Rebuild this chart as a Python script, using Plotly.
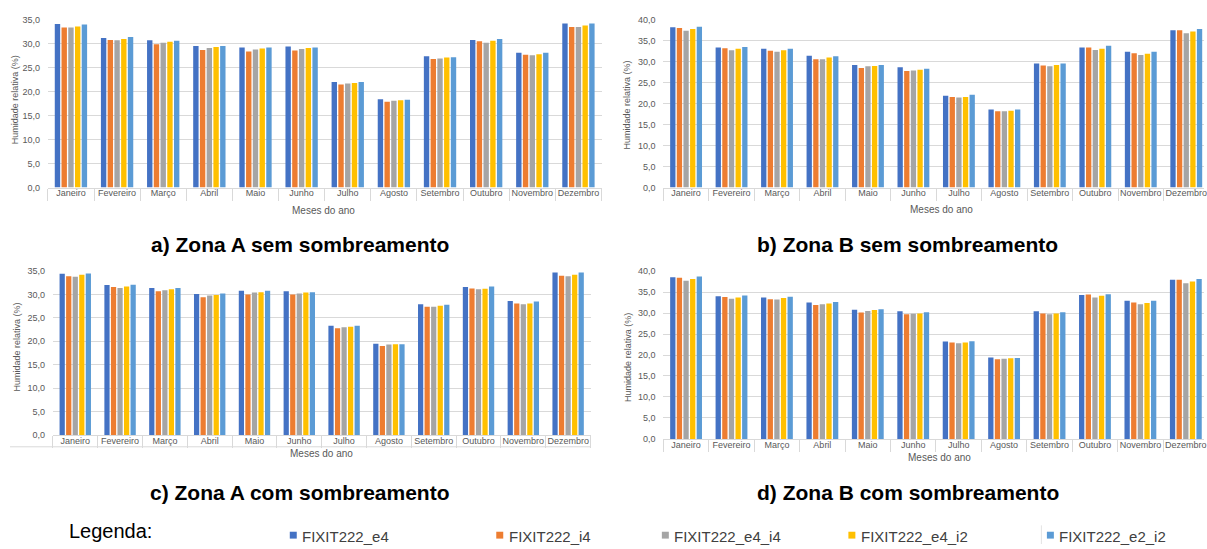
import plotly.graph_objects as go

# Months (category axis)
meses = ["Janeiro", "Fevereiro", "Março", "Abril", "Maio", "Junho", "Julho",
         "Agosto", "Setembro", "Outubro", "Novembro", "Dezembro"]

series_nomes = ["FIXIT222_e4", "FIXIT222_i4", "FIXIT222_e4_i4", "FIXIT222_e4_i2", "FIXIT222_e2_i2"]
series_cores = ["#4472C4", "#ED7D31", "#A5A5A5", "#FFC000", "#5B9BD5"]

# a) Zona A sem sombreamento
a_e4 = [34.1, 31.2, 30.7, 29.5, 29.2, 29.4, 22.0, 18.4, 27.4, 30.8, 28.1, 34.2]
a_i4 = [33.4, 30.8, 29.9, 28.7, 28.4, 28.6, 21.5, 17.9, 26.8, 30.5, 27.7, 33.5]
a_e4_i4 = [33.4, 30.7, 30.2, 29.1, 28.8, 28.9, 21.7, 18.1, 26.9, 30.2, 27.6, 33.5]
a_e4_i2 = [33.6, 31.0, 30.4, 29.3, 29.0, 29.1, 21.8, 18.2, 27.1, 30.6, 27.8, 33.8]
a_e2_i2 = [34.0, 31.4, 30.6, 29.5, 29.2, 29.2, 22.0, 18.3, 27.2, 31.0, 28.1, 34.2]

# b) Zona B sem sombreamento
b_e4 = [38.2, 33.4, 33.1, 31.4, 29.2, 28.7, 21.9, 18.6, 29.6, 33.4, 32.4, 37.5]
b_i4 = [38.0, 33.2, 32.6, 30.6, 28.5, 27.8, 21.6, 18.2, 29.1, 33.4, 32.0, 37.5]
b_e4_i4 = [37.4, 32.7, 32.4, 30.6, 28.9, 27.9, 21.5, 18.2, 28.9, 32.8, 31.6, 36.8]
b_e4_i2 = [37.8, 33.1, 32.7, 31.0, 29.0, 28.1, 21.6, 18.3, 29.2, 33.1, 31.9, 37.2]
b_e2_i2 = [38.3, 33.5, 33.1, 31.3, 29.2, 28.3, 22.1, 18.6, 29.6, 33.8, 32.4, 37.8]

# c) Zona A com sombreamento
c_e4 = [34.4, 32.0, 31.4, 30.1, 30.8, 30.7, 23.3, 19.5, 27.9, 31.6, 28.6, 34.7]
c_i4 = [33.9, 31.6, 30.7, 29.4, 30.0, 30.0, 22.8, 19.0, 27.4, 31.3, 28.1, 34.0]
c_e4_i4 = [33.8, 31.4, 30.9, 29.8, 30.4, 30.2, 23.0, 19.3, 27.4, 31.1, 27.9, 33.9]
c_e4_i2 = [34.2, 31.7, 31.1, 29.9, 30.5, 30.4, 23.1, 19.4, 27.6, 31.2, 28.1, 34.2]
c_e2_i2 = [34.5, 32.1, 31.4, 30.2, 30.8, 30.5, 23.3, 19.4, 27.8, 31.7, 28.5, 34.7]

# d) Zona B com sombreamento
d_e4 = [38.5, 34.0, 33.7, 32.5, 30.8, 30.4, 23.2, 19.4, 30.4, 34.3, 32.9, 37.9]
d_i4 = [38.4, 33.8, 33.3, 31.9, 30.1, 29.7, 23.0, 19.0, 29.9, 34.4, 32.5, 37.9]
d_e4_i4 = [37.7, 33.4, 33.2, 32.1, 30.5, 29.8, 22.8, 19.1, 29.7, 33.7, 32.1, 37.1]
d_e4_i2 = [38.1, 33.7, 33.6, 32.3, 30.7, 29.9, 23.0, 19.2, 29.9, 34.1, 32.4, 37.5]
d_e2_i2 = [38.7, 34.2, 33.9, 32.6, 30.9, 30.2, 23.3, 19.3, 30.2, 34.5, 32.9, 38.1]

W, H = 1207, 549
FONT = "Liberation Sans, Arial, sans-serif"
GRID = "#d9d9d9"
TXT = "#595959"


def px_x(v):
    return v / W


def px_y(v):
    return 1 - v / H


# panel geometry in pixels
paineis = [
    dict(dados=[a_e4, a_i4, a_e4_i4, a_e4_i2, a_e2_i2], x0=48, x1=603, y0=15, y1=186,
         ymax=35, xmax=11.5, titulo="a) Zona A sem sombreamento", tx=301, ty=244,
         ytx=15, yty=96, mx=324, my=209),
    dict(dados=[b_e4, b_i4, b_e4_i4, b_e4_i2, b_e2_i2], x0=665, x1=1207, y0=15, y1=186,
         ymax=40, xmax=11.39, titulo="b) Zona B sem sombreamento", tx=910, ty=244,
         ytx=629, yty=102, mx=944, my=208),
    dict(dados=[c_e4, c_i4, c_e4_i4, c_e4_i2, c_e2_i2], x0=53, x1=592, y0=271, y1=438,
         ymax=35, xmax=11.5, titulo="c) Zona A com sombreamento", tx=301, ty=497,
         ytx=17, yty=348, mx=322, my=457),
    dict(dados=[d_e4, d_i4, d_e4_i4, d_e4_i2, d_e2_i2], x0=665, x1=1207, y0=271, y1=442,
         ymax=40, xmax=11.4, titulo="d) Zona B com sombreamento", tx=910, ty=497,
         ytx=630, yty=359, mx=942, my=461),
]

fig = go.Figure()
annotations = []
shapes = []

for i, p in enumerate(paineis, start=1):
    sfx = "" if i == 1 else str(i)
    for nome, cor, vals in zip(series_nomes, series_cores, p["dados"]):
        fig.add_trace(go.Bar(
            x=meses, y=vals, name=nome, marker=dict(color=cor, line=dict(width=0)),
            xaxis="x" + sfx, yaxis="y" + sfx, showlegend=False,
            hovertemplate="%{x}: %{y:.1f}<extra>" + nome + "</extra>",
        ))
    fig.layout["xaxis" + sfx] = dict(
        domain=[px_x(p["x0"]), min(1.0, px_x(p["x1"]))], anchor="y" + sfx,
        type="category", categoryorder="array", categoryarray=meses,
        range=[-0.5, p["xmax"]], showgrid=False, zeroline=False,
        showline=True, linecolor=GRID, linewidth=1,
        ticks="outside", tickson="boundaries", ticklen=12, tickcolor=GRID, tickwidth=1,
        ticklabelstandoff=-3, tickangle=0,
        tickfont=dict(family=FONT, size=9, color=TXT),
    )
    fig.layout["yaxis" + sfx] = dict(
        domain=[px_y(p["y1"]), px_y(p["y0"])], anchor="x" + sfx,
        range=[0, p["ymax"]], dtick=5, tick0=0, tickformat=".1f",
        showgrid=True, gridcolor=GRID, gridwidth=1, zeroline=False, showline=False,
        ticks="outside", ticklen=5, tickcolor="rgba(0,0,0,0)",
        tickfont=dict(family=FONT, size=9, color=TXT),
    )
    annotations.append(dict(
        text="<b>" + p["titulo"] + "</b>", x=px_x(p["tx"]), y=px_y(p["ty"]),
        xref="paper", yref="paper", xanchor="center", yanchor="middle", showarrow=False,
        font=dict(family=FONT, size=21, color="#000000"),
    ))
    annotations.append(dict(
        text="Humidade relativa (%)", x=px_x(p["ytx"]), y=px_y(p["yty"]),
        xref="paper", yref="paper", xanchor="center", yanchor="middle", showarrow=False,
        textangle=-90, font=dict(family=FONT, size=9, color=TXT),
    ))
    annotations.append(dict(
        text="Meses do ano", x=px_x(p["mx"]), y=px_y(p["my"]),
        xref="paper", yref="paper", xanchor="center", yanchor="middle", showarrow=False,
        font=dict(family=FONT, size=10, color=TXT),
    ))

# bottom rule under the month labels of panel c
shapes.append(dict(type="line", xref="paper", yref="paper",
                   x0=px_x(10), x1=px_x(592), y0=px_y(450), y1=px_y(450),
                   line=dict(color=GRID, width=1)))

# legend row
annotations.append(dict(
    text="Legenda:", x=px_x(67), y=px_y(536), xref="paper", yref="paper",
    xanchor="left", yanchor="middle", showarrow=False,
    font=dict(family=FONT, size=20, color="#000000"),
))
legenda_x = [294, 501, 667, 854, 1053]
for nome, cor, lx in zip(series_nomes, series_cores, legenda_x):
    shapes.append(dict(type="rect", xref="paper", yref="paper",
                       x0=px_x(lx - 3.5), x1=px_x(lx + 3.5), y0=px_y(543.5), y1=px_y(536.5),
                       fillcolor=cor, line=dict(width=0)))
    annotations.append(dict(
        text=nome, x=px_x(lx + 7), y=px_y(541), xref="paper", yref="paper",
        xanchor="left", yanchor="middle", showarrow=False,
        font=dict(family=FONT, size=15, color="#404040"),
    ))
shapes.append(dict(type="line", xref="paper", yref="paper",
                   x0=px_x(1044), x1=px_x(1044), y0=px_y(530), y1=px_y(549),
                   line=dict(color="#e3e3e3", width=1)))

fig.update_layout(
    width=W, height=H, margin=dict(l=0, r=0, t=0, b=0),
    paper_bgcolor="#ffffff", plot_bgcolor="#ffffff",
    barmode="group", bargap=0.27, bargroupgap=0.2,
    separators=",.", font=dict(family=FONT),
    annotations=annotations, shapes=shapes, showlegend=False,
)

fig.write_html("out.html")
